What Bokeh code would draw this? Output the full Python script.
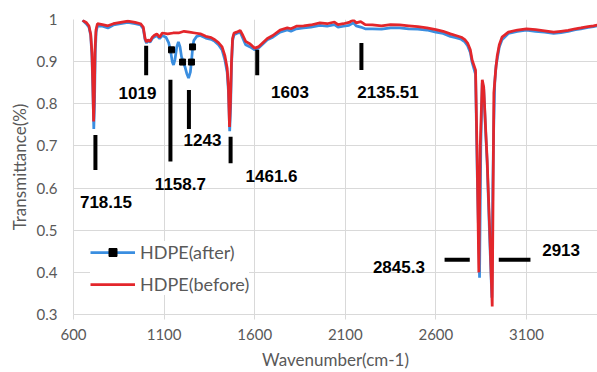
from bokeh.plotting import figure
from bokeh.models import Range1d, FixedTicker, CustomJSTickFormatter, Legend, LegendItem
from bokeh.core.properties import value
from bokeh.embed import file_html
from bokeh.resources import INLINE

# ---- data ----
wn_before = [650, 670, 685, 695, 702, 707, 711, 715, 719, 724, 732, 760, 790, 820, 860, 900, 940, 970,
             985, 995, 1003, 1012, 1022, 1035, 1045, 1060, 1075, 1090, 1120, 1150, 1180, 1210, 1240,
             1270, 1300, 1330, 1360, 1380, 1400, 1420, 1435, 1448, 1455, 1461, 1466, 1472, 1478, 1486,
             1500, 1520, 1535, 1550, 1575, 1600, 1620, 1645, 1670, 1700, 1740, 1780, 1800, 1830, 1870,
             1910, 1960, 2000, 2040, 2060, 2090, 2120, 2145, 2160, 2185, 2210, 2250, 2300, 2350, 2400,
             2450, 2500, 2550, 2600, 2640, 2680, 2710, 2740, 2760, 2775, 2790, 2800, 2819, 2828, 2837,
             2845, 2856, 2864, 2874, 2883, 2897, 2911, 2916, 2920, 2930, 2938, 2950, 2965, 3000, 3050,
             3100, 3150, 3200, 3250, 3290, 3330, 3370, 3400, 3440, 3470, 3492]
t_before = [0.998, 0.993, 0.985, 0.965, 0.92, 0.84, 0.758, 0.82, 0.93, 0.975, 0.99, 0.988, 0.985, 0.99,
            0.993, 0.996, 0.993, 0.99, 0.982, 0.955, 0.947, 0.952, 0.948, 0.958, 0.962, 0.966, 0.958,
            0.968, 0.966, 0.968, 0.968, 0.972, 0.970, 0.968, 0.966, 0.960, 0.957, 0.952, 0.945, 0.935,
            0.915, 0.885, 0.84, 0.745, 0.80, 0.90, 0.955, 0.968, 0.970, 0.974, 0.962, 0.948, 0.942,
            0.932, 0.935, 0.945, 0.955, 0.962, 0.975, 0.980, 0.978, 0.984, 0.985, 0.987, 0.992, 0.990,
            0.994, 0.988, 0.990, 0.993, 0.999, 0.992, 0.995, 0.988, 0.987, 0.985, 0.988, 0.987, 0.985,
            0.983, 0.980, 0.976, 0.972, 0.966, 0.962, 0.958, 0.952, 0.944, 0.928, 0.904, 0.88, 0.667,
            0.40, 0.70, 0.857, 0.84, 0.746, 0.667, 0.50, 0.319, 0.60, 0.826, 0.88, 0.912, 0.94, 0.958,
            0.970, 0.975, 0.978, 0.976, 0.973, 0.970, 0.972, 0.974, 0.978, 0.98, 0.983, 0.985, 0.987]

wn_after = [650, 670, 685, 695, 702, 707, 712, 716, 720, 725, 732, 760, 790, 820, 860, 900, 940, 970,
            985, 995, 1003, 1012, 1022, 1035, 1045, 1060, 1075, 1090, 1110, 1125, 1135, 1145, 1152,
            1160, 1170, 1179, 1188, 1196, 1205, 1215, 1225, 1235, 1245, 1252, 1258, 1264, 1280, 1300,
            1330, 1360, 1380, 1400, 1420, 1435, 1448, 1455, 1462, 1467, 1472, 1478, 1486, 1500, 1520,
            1535, 1550, 1575, 1600, 1620, 1645, 1670, 1700, 1740, 1780, 1800, 1830, 1870, 1910, 1960,
            2000, 2040, 2060, 2090, 2120, 2145, 2160, 2185, 2210, 2250, 2300, 2350, 2400, 2450, 2500,
            2550, 2600, 2640, 2680, 2710, 2740, 2760, 2775, 2790, 2800, 2819, 2828, 2841, 2848, 2856,
            2864, 2874, 2883, 2897, 2909, 2914, 2919, 2925, 2932, 2940, 2950, 2965, 3000, 3050, 3100,
            3150, 3200, 3250, 3290, 3330, 3370, 3400, 3440, 3470, 3492]
t_after = [0.998, 0.99, 0.982, 0.962, 0.91, 0.83, 0.74, 0.80, 0.92, 0.97, 0.985, 0.984, 0.980, 0.987,
           0.99, 0.993, 0.99, 0.987, 0.978, 0.952, 0.944, 0.95, 0.946, 0.955, 0.958, 0.962, 0.955,
           0.962, 0.958, 0.945, 0.928, 0.90, 0.892, 0.905, 0.935, 0.947, 0.935, 0.912, 0.90, 0.888,
           0.872, 0.861, 0.875, 0.905, 0.935, 0.950, 0.960, 0.962, 0.956, 0.953, 0.948, 0.940, 0.928,
           0.905, 0.875, 0.83, 0.735, 0.79, 0.89, 0.95, 0.964, 0.967, 0.970, 0.955, 0.940, 0.935,
           0.928, 0.932, 0.942, 0.952, 0.958, 0.97, 0.975, 0.972, 0.978, 0.98, 0.982, 0.986, 0.984,
           0.988, 0.982, 0.984, 0.986, 0.992, 0.985, 0.982, 0.978, 0.978, 0.977, 0.980, 0.980, 0.978,
           0.977, 0.975, 0.970, 0.967, 0.960, 0.957, 0.953, 0.947, 0.938, 0.922, 0.898, 0.87, 0.64,
           0.387, 0.70, 0.85, 0.835, 0.74, 0.66, 0.48, 0.34, 0.60, 0.74, 0.85, 0.89, 0.91, 0.935,
           0.952, 0.967, 0.972, 0.975, 0.972, 0.97, 0.967, 0.969, 0.972, 0.976, 0.978, 0.981, 0.983,
           0.985]

marker_wn = [1141, 1202, 1251, 1257]
marker_t = [0.928, 0.899, 0.899, 0.935]

# peak annotation bars (x0, y0, x1, y1) and labels
bar_x0 = [721, 1001, 1135, 1237, 1467, 1614, 2189, 2648, 2947]
bar_x1 = [721, 1001, 1135, 1237, 1467, 1614, 2189, 2787, 3122]
bar_y0 = [0.726, 0.938, 0.857, 0.833, 0.722, 0.928, 0.944, 0.430, 0.430]
bar_y1 = [0.643, 0.868, 0.663, 0.740, 0.659, 0.868, 0.880, 0.430, 0.430]
peak_labels = ["718.15", "1019", "1158.7", "1243", "1461.6", "1603", "2135.51", "2845.3", "2913"]
label_x = [779, 953, 1190, 1312, 1693, 1795, 2336, 2396, 3291]
label_y = [0.567, 0.826, 0.610, 0.713, 0.629, 0.827, 0.827, 0.412, 0.453]

x_ticks = [600, 1100, 1600, 2100, 2600, 3100]
y_ticks = [0.3, 0.4, 0.5, 0.6, 0.7, 0.8, 0.9, 1.0]

BLUE = "#3a8ee0"
RED = "#e3262b"
GRAY = "#595959"
GRID = "#d9d9d9"

p = figure(width=597, height=372, output_backend="svg", toolbar_location=None,
           x_range=Range1d(600, 3492), y_range=Range1d(0.3, 1.0),
           min_border_left=73, min_border_right=0, min_border_top=19, min_border_bottom=57)
p.outline_line_color = None
p.background_fill_color = "white"

p.xgrid.ticker = FixedTicker(ticks=x_ticks)
p.ygrid.ticker = FixedTicker(ticks=y_ticks)
for g in (p.xgrid, p.ygrid):
    g.grid_line_color = GRID
    g.grid_line_width = 1

p.xaxis.ticker = FixedTicker(ticks=x_ticks)
p.yaxis.ticker = FixedTicker(ticks=y_ticks)
p.yaxis.formatter = CustomJSTickFormatter(code="return tick.toFixed(1).replace(/\\.0$/, '');")
for ax in (p.xaxis, p.yaxis):
    ax.axis_line_color = GRID
    ax.minor_tick_line_color = None
    ax.major_label_text_font = "Lato"
    ax.major_label_text_font_size = "15px"
    ax.major_label_text_color = GRAY
    ax.axis_label_text_font = "Lato"
    ax.axis_label_text_font_size = "17px"
    ax.axis_label_text_font_style = "normal"
    ax.axis_label_text_color = GRAY
p.xaxis.major_tick_line_color = GRID
p.xaxis.major_tick_out = 5
p.xaxis.major_tick_in = 0
p.xaxis.major_label_standoff = 9
p.xaxis.axis_label_standoff = 6
p.yaxis.major_tick_line_color = None
p.yaxis.major_tick_out = 0
p.yaxis.major_tick_in = 0
p.yaxis.major_label_standoff = 16
p.yaxis.axis_label_standoff = 4
p.xaxis.axis_label = "Wavenumber(cm-1)"
p.yaxis.axis_label = "Transmittance(%)"

r_after = p.line(wn_after, t_after, line_color=BLUE, line_width=2.75)
r_before = p.line(wn_before, t_before, line_color=RED, line_width=2.75)
r_mk = p.scatter(marker_wn, marker_t, marker="square", size=6, color="black")

p.segment(x0=bar_x0, y0=bar_y0, x1=bar_x1, y1=bar_y1, line_color="black", line_width=4)
p.text(x=label_x, y=label_y, text=peak_labels, text_font=value("Liberation Sans"),
       text_font_style="bold", text_font_size="17px", text_align="center",
       text_baseline="middle", text_color="black")

legend = Legend(items=[LegendItem(label="HDPE(after)", renderers=[r_after, r_mk]),
                       LegendItem(label="HDPE(before)", renderers=[r_before])],
                location=(17, 19))
legend.background_fill_color = "white"
legend.background_fill_alpha = 1
legend.border_line_color = None
legend.label_text_font = "Lato"
legend.label_text_font_size = "18px"
legend.label_text_color = GRAY
legend.glyph_width = 45
legend.glyph_height = 20
legend.label_height = 20
legend.label_standoff = 5
legend.spacing = 10
legend.padding = 4
legend.margin = 0
p.add_layout(legend)

open("out.html", "w").write(file_html(p, INLINE))
